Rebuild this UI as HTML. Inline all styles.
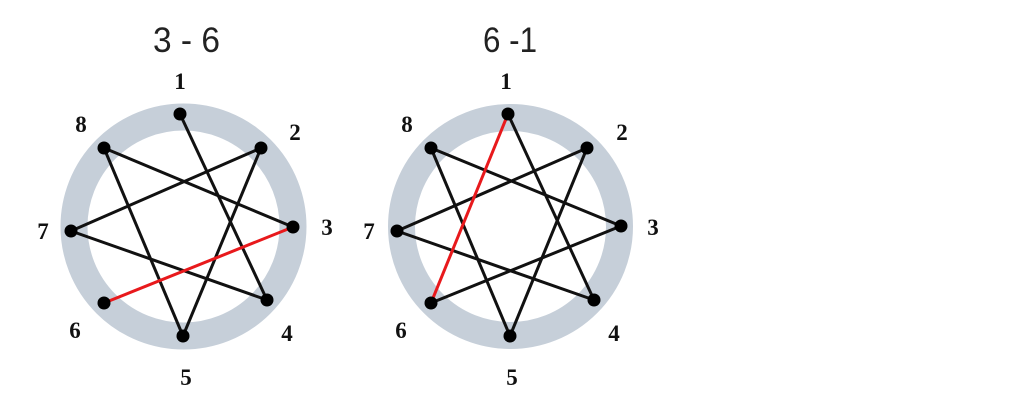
<!DOCTYPE html>
<html><head><meta charset="utf-8"><style>
html,body{margin:0;padding:0;background:#fff;}
svg{display:block}
.t{font-family:"Liberation Sans","DejaVu Sans",sans-serif;font-size:35px;fill:#222}
.n{font-family:"Liberation Serif",serif;font-weight:bold;font-size:23px;fill:#111;text-anchor:middle}
line{stroke:#111;stroke-width:3}
.r{stroke:#e8191c}
</style></head><body>
<svg width="1024" height="405" viewBox="0 0 1024 405" xmlns="http://www.w3.org/2000/svg">
<text class="t" x="186.5" y="52" text-anchor="middle" textLength="67" lengthAdjust="spacingAndGlyphs">3 - 6</text>
<text class="t" x="510" y="52" text-anchor="middle" textLength="54" lengthAdjust="spacingAndGlyphs">6 -1</text>

<!-- left -->
<circle cx="183.5" cy="226.5" r="109.5" fill="none" stroke="#c6cfd9" stroke-width="27"/>
<line x1="180" y1="114" x2="267" y2="300"/>
<line x1="104" y1="148" x2="293" y2="227"/>
<line x1="104" y1="148" x2="183" y2="336"/>
<line x1="261" y1="148" x2="71" y2="231"/>
<line x1="261" y1="148" x2="183" y2="336"/>
<line x1="71" y1="231" x2="267" y2="300"/>
<line class="r" x1="104" y1="303" x2="293" y2="227"/>
<g fill="#000">
<circle cx="180" cy="114" r="6.5"/><circle cx="261" cy="148" r="6.5"/><circle cx="293" cy="227" r="6.5"/><circle cx="267" cy="300" r="6.5"/>
<circle cx="183" cy="336" r="6.5"/><circle cx="104" cy="303" r="6.5"/><circle cx="71" cy="231" r="6.5"/><circle cx="104" cy="148" r="6.5"/>
</g>
<text class="n" x="180" y="89">1</text><text class="n" x="295" y="140">2</text><text class="n" x="327" y="235">3</text><text class="n" x="287" y="341">4</text>
<text class="n" x="186" y="385">5</text><text class="n" x="75" y="338">6</text><text class="n" x="43" y="239">7</text><text class="n" x="81" y="132">8</text>

<!-- right -->
<circle cx="510.5" cy="226.5" r="109" fill="none" stroke="#c6cfd9" stroke-width="27"/>
<line x1="508" y1="114" x2="594" y2="300"/>
<line x1="431" y1="148" x2="621" y2="226"/>
<line x1="431" y1="148" x2="510" y2="336"/>
<line x1="587" y1="148" x2="397" y2="231"/>
<line x1="587" y1="148" x2="510" y2="336"/>
<line x1="397" y1="231" x2="594" y2="300"/>
<line x1="431" y1="303" x2="621" y2="226"/>
<line class="r" x1="431" y1="303" x2="508" y2="114"/>
<g fill="#000">
<circle cx="508" cy="114" r="6.5"/><circle cx="587" cy="148" r="6.5"/><circle cx="621" cy="226" r="6.5"/><circle cx="594" cy="300" r="6.5"/>
<circle cx="510" cy="336" r="6.5"/><circle cx="431" cy="303" r="6.5"/><circle cx="397" cy="231" r="6.5"/><circle cx="431" cy="148" r="6.5"/>
</g>
<text class="n" x="506" y="89">1</text><text class="n" x="622" y="140">2</text><text class="n" x="653" y="235">3</text><text class="n" x="614" y="341">4</text>
<text class="n" x="512" y="385">5</text><text class="n" x="401" y="338">6</text><text class="n" x="369" y="239">7</text><text class="n" x="407" y="132">8</text>
</svg>
</body></html>
